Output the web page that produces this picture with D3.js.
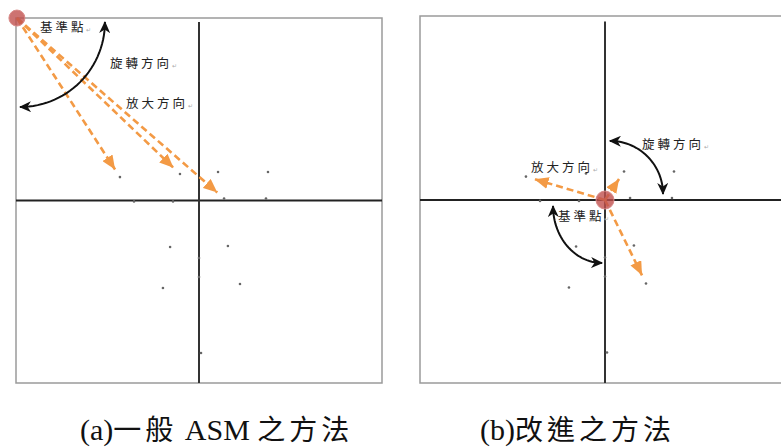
<!DOCTYPE html>
<html>
<head>
<meta charset="utf-8">
<script src="https://cdn.jsdelivr.net/npm/d3@7"></script>
<style>
  html, body { margin: 0; padding: 0; background: #fff; }
  svg { display: block; }
</style>
</head>
<body>
<svg width="781" height="448"></svg>
<script>
// landmark points (same shape in both panels), data units, y up
const landmarkX = [-43.2, -10.4, 10.4, 37.7, 13.7, 36.6, -35.5, -14.2, -15.8, 15.8, 0, 0, -19.7, 22.4, 1.1];
const landmarkY = [12.8, 14.5, 15.6, 15.6, 1.1, 1.1, -0.5, -0.5, -25.4, -24.9, -31.4, -41.8, -47.8, -45.6, -83.3];

// captions split into latin / CJK runs
const captionParts = [
  ["(a)", "一般", " ASM ", "之方法"],
  ["(b)", "改進之方法"]
];
const basePointX = [-99.5, 0];
const basePointY = [99.7, 0];
// which landmarks the scale arrows point to, per panel
const arrowTargets = [[0, 1, 4], [0, 2, 13]];

// rotation arcs
const arcPanel = [0, 1, 1];
const arcCx = [-97.8, 2.7, -1.6];
const arcCy = [97.5, 3.3, -3.3];
const arcRx = [46.4, 29, 26.8];
const arcRy = [46.4, 29, 31.1];
const arcStart = [0, 90, 180];
const arcEnd = [-90, 0, 270];

// annotation labels
const labelPanel = [0, 0, 0, 1, 1, 1];
const labelText = ["基準點", "旋轉方向", "放大方向", "旋轉方向", "放大方向", "基準點"];
const labelX = [-86.9, -48.6, -39.9, 20.2, -40.4, -25.7];
const labelY = [94.3, 74.6, 52.7, 30.1, 17.5, -9.3];

const svg = d3.select("svg");

const panels = [
  {ox: 199, oy: 200.5, left: 16, top: 18, right: 382, bottom: 383, capX: 80},
  {ox: 605, oy: 200, left: 420, top: 16, right: 800, bottom: 383, capX: 480}
];

const defs = svg.append("defs");
defs.append("marker")
  .attr("id", "orangeHead")
  .attr("viewBox", "0 0 14 12")
  .attr("refX", 14).attr("refY", 6)
  .attr("markerWidth", 14).attr("markerHeight", 12)
  .attr("markerUnits", "userSpaceOnUse")
  .attr("orient", "auto")
  .append("path").attr("d", "M0,0L14,6L0,12Z").attr("fill", "#f39a45");
defs.append("marker")
  .attr("id", "blackHead")
  .attr("viewBox", "0 0 12 11")
  .attr("refX", 11).attr("refY", 5.5)
  .attr("markerWidth", 12).attr("markerHeight", 11)
  .attr("markerUnits", "userSpaceOnUse")
  .attr("orient", "auto-start-reverse")
  .append("path").attr("d", "M0,0L12,5.5L0,11L3.5,5.5Z").attr("fill", "#111");

panels.forEach((p, pi) => {
  const x = d3.scaleLinear().domain([-100, 100]).range([p.ox - 183, p.ox + 183]);
  const y = d3.scaleLinear().domain([-100, 100]).range([p.oy + 183, p.oy - 183]);
  const g = svg.append("g");

  // frame
  g.append("rect")
    .attr("x", p.left).attr("y", p.top)
    .attr("width", p.right - p.left).attr("height", p.bottom - p.top)
    .attr("fill", "none").attr("stroke", "#9a9a9a").attr("stroke-width", 1.5);

  // axes
  g.append("line")
    .attr("x1", p.left).attr("x2", p.right)
    .attr("y1", y(0)).attr("y2", y(0))
    .attr("stroke", "#222").attr("stroke-width", 2.2);
  g.append("line")
    .attr("x1", x(0)).attr("x2", x(0))
    .attr("y1", y(97.5)).attr("y2", p.bottom)
    .attr("stroke", "#333").attr("stroke-width", 2);

  // landmarks
  g.selectAll("circle.pt")
    .data(landmarkX.map((v, i) => [v, landmarkY[i]]))
    .join("circle")
    .attr("class", "pt")
    .attr("cx", d => x(d[0])).attr("cy", d => y(d[1]))
    .attr("r", 1.3).attr("fill", "#666");

  // scale direction arrows
  const bx = x(basePointX[pi]), by = y(basePointY[pi]);
  g.selectAll("line.scale")
    .data(arrowTargets[pi])
    .join("line")
    .attr("class", "scale")
    .each(function(k) {
      const tx = x(landmarkX[k]), ty = y(landmarkY[k]);
      const len = Math.hypot(tx - bx, ty - by);
      const s = (len - 9) / len;
      d3.select(this)
        .attr("x1", bx).attr("y1", by)
        .attr("x2", bx + (tx - bx) * s).attr("y2", by + (ty - by) * s);
    })
    .attr("stroke", "#f39a45").attr("stroke-width", 2.6)
    .attr("stroke-dasharray", "7,4")
    .attr("marker-end", "url(#orangeHead)");

  // base point
  g.append("circle")
    .attr("cx", bx).attr("cy", by).attr("r", pi === 0 ? 8 : 9)
    .attr("fill", "#c0504d").attr("fill-opacity", 0.8)
    .attr("stroke", "#d98a88").attr("stroke-width", 1);

  // rotation arcs
  const line = d3.line();
  arcPanel.forEach((ap, i) => {
    if (ap !== pi) return;
    const pts = d3.range(0, 31).map(j => {
      const t = (arcStart[i] + (arcEnd[i] - arcStart[i]) * j / 30) * Math.PI / 180;
      return [x(arcCx[i] + arcRx[i] * Math.cos(t)), y(arcCy[i] + arcRy[i] * Math.sin(t))];
    });
    g.append("path")
      .attr("d", line(pts))
      .attr("fill", "none").attr("stroke", "#111").attr("stroke-width", 2)
      .attr("marker-start", "url(#blackHead)")
      .attr("marker-end", "url(#blackHead)");
  });

  // labels
  labelPanel.forEach((lp, i) => {
    if (lp !== pi) return;
    const t = g.append("text")
      .attr("x", x(labelX[i])).attr("y", y(labelY[i]))
      .attr("dy", "0.35em")
      .attr("font-family", "'Noto Sans CJK TC', sans-serif")
      .attr("font-size", 12.5).attr("letter-spacing", 3)
      .attr("fill", "#222");
    t.append("tspan").text(labelText[i]);
    t.append("tspan").attr("font-size", 6).attr("fill", "#aaa").text("↵");
  });

  // caption
  const cap = svg.append("text")
    .attr("x", p.capX).attr("y", 440)
    .attr("fill", "#111")
    .attr("xml:space", "preserve");
  captionParts[pi].forEach(part => {
    const cjk = /[\u4e00-\u9fff]/.test(part);
    cap.append("tspan")
      .attr("font-family", cjk ? "'Noto Sans CJK TC', sans-serif" : "'Liberation Serif', serif")
      .attr("font-size", cjk ? 28 : 30)
      .attr("letter-spacing", cjk ? 4 : 0)
      .text(part);
  });
});
</script>
</body>
</html>
